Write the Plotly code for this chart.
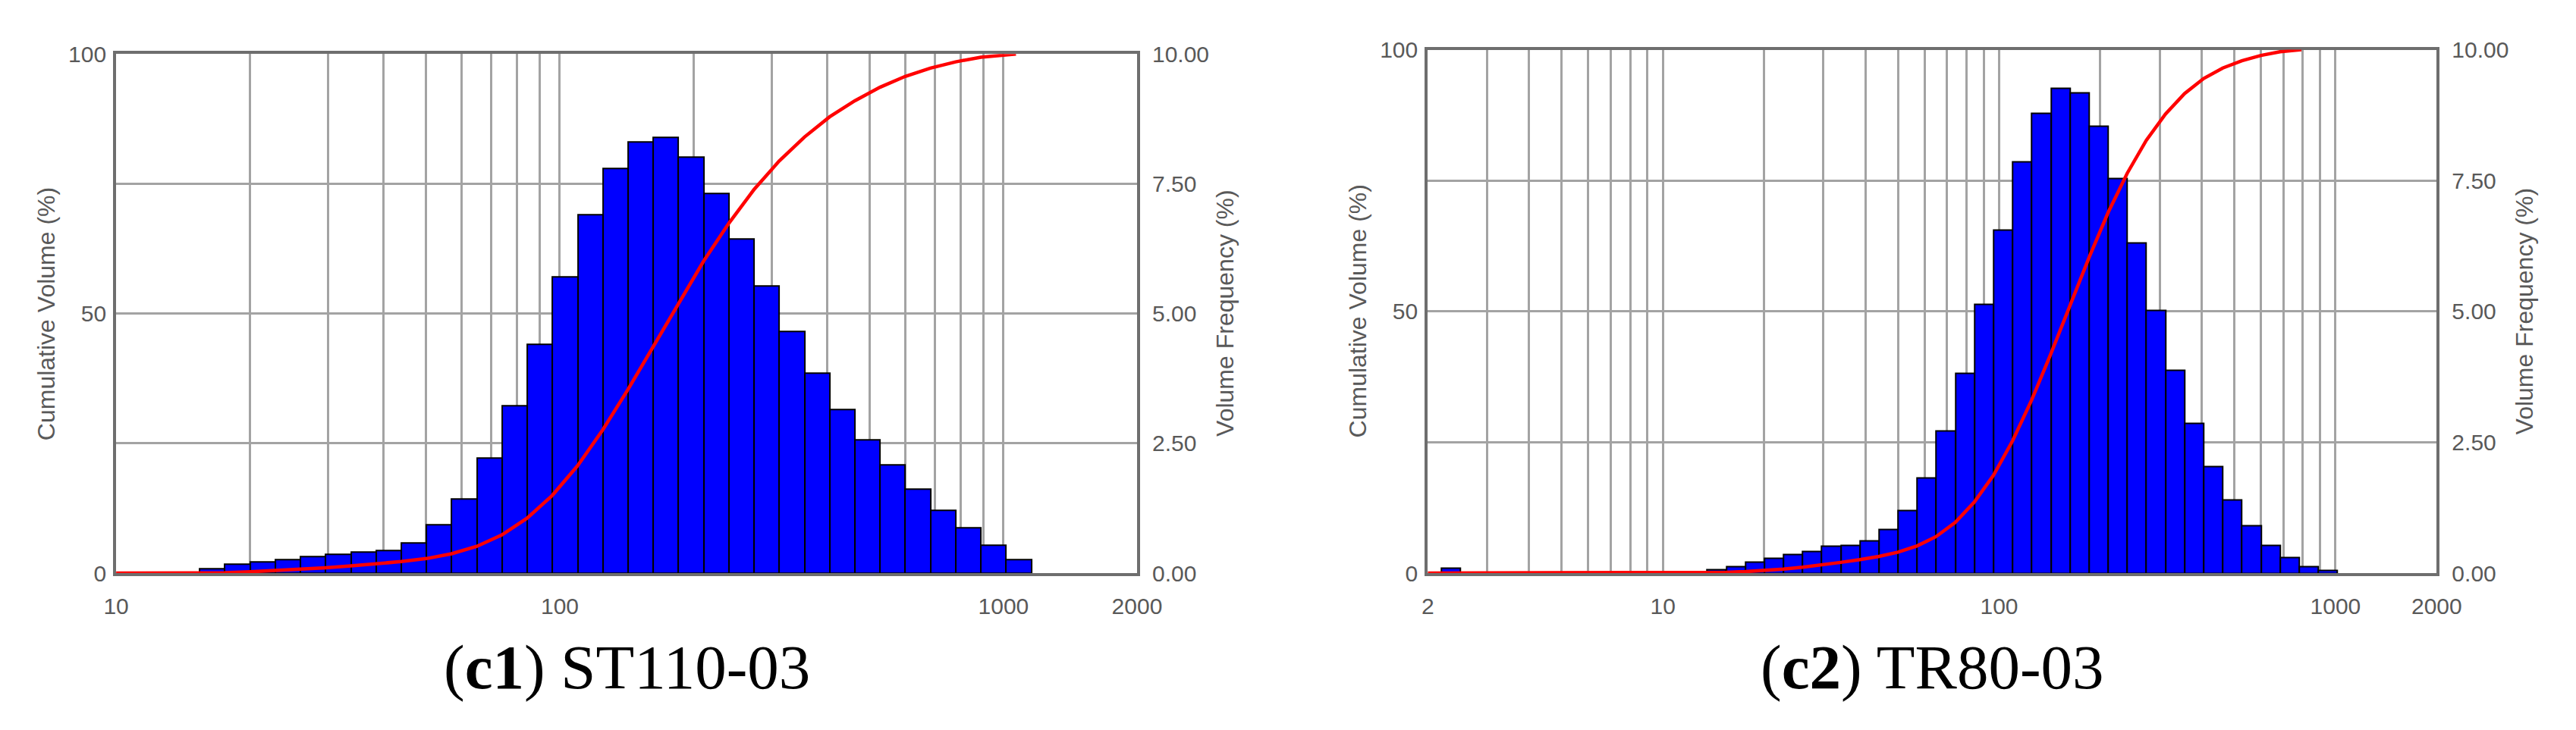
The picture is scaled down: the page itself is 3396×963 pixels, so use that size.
import math
import plotly.graph_objects as go

# ---------------- data ----------------
# particle size bin centres (um), log-spaced instrument bins
bin_centers = [14.45, 16.48, 18.78, 21.40, 24.39, 27.80, 31.68, 36.11, 41.16, 46.91,
               53.46, 60.93, 69.44, 79.14, 90.20, 102.8, 117.2, 133.6, 152.2, 173.5,
               197.7, 225.4, 256.8, 292.7, 333.6, 380.2, 433.4, 493.9, 562.9, 641.6,
               731.1, 833.4, 949.9, 1082.6]
bin_log_width = 0.0568  # width of one bin in decades

# (c1) ST110-03 volume frequency (%)
c1_size = bin_centers[1:]
c1_freq = [0.08, 0.17, 0.21, 0.26, 0.31, 0.36, 0.40, 0.43, 0.58, 0.93,
           1.43, 2.21, 3.23, 4.41, 5.70, 6.90, 7.79, 8.30, 8.39, 8.02,
           7.32, 6.43, 5.53, 4.65, 3.85, 3.15, 2.57, 2.08, 1.61, 1.21,
           0.87, 0.53, 0.26]
# (c1) cumulative volume (%)
c1_cum_size = [10, 15.43, 17.59, 20.04, 22.84, 26.03, 29.67, 33.81, 38.53, 43.92,
               50.05, 57.04, 65.01, 74.09, 84.45, 96.24, 109.7, 125.0, 142.5, 162.4,
               185.1, 210.9, 240.4, 274.0, 312.3, 355.9, 405.6, 462.3, 526.9, 600.5,
               684.4, 780.0, 889.0, 1013, 1067]
c1_cum = [0, 0, 0.08, 0.25, 0.46, 0.72, 1.03, 1.39, 1.79, 2.22,
          2.80, 3.73, 5.16, 7.37, 10.6, 15.0, 20.7, 27.6, 35.4, 43.7,
          52.1, 60.1, 67.4, 73.9, 79.4, 84.0, 87.9, 91.0, 93.6, 95.7,
          97.3, 98.5, 99.4, 99.9, 100]

# (c2) TR80-03 volume frequency (%)
c2_size = [2.34] + bin_centers[:33]
c2_freq = [0.10,
           0.06, 0.12, 0.21, 0.28, 0.36, 0.41, 0.51, 0.53, 0.62, 0.83,
           1.19, 1.82, 2.71, 3.82, 5.14, 6.55, 7.85, 8.79, 9.26, 9.17,
           8.54, 7.54, 6.30, 5.02, 3.87, 2.86, 2.03, 1.40, 0.90, 0.53,
           0.30, 0.12, 0.05]
# (c2) cumulative volume (%)
c2_cum_size = [2, 2.17, 2.52, 13.54, 15.43, 17.59, 20.04, 22.84, 26.03, 29.67,
               33.81, 38.53, 43.92, 50.05, 57.04, 65.01, 74.09, 84.45, 96.24, 109.7,
               125.0, 142.5, 162.4, 185.1, 210.9, 240.4, 274.0, 312.3, 355.9, 405.6,
               462.3, 526.9, 600.5, 684.4, 792]
c2_cum = [0, 0, 0.1, 0.1, 0.16, 0.28, 0.49, 0.77, 1.13, 1.54,
          2.05, 2.58, 3.2, 4.0, 5.2, 7.0, 9.7, 13.6, 18.7, 25.3,
          33.1, 41.9, 51.2, 60.3, 68.9, 76.4, 82.7, 87.7, 91.6, 94.5,
          96.5, 97.9, 98.9, 99.6, 100]

# axis ticks / grid
c1_xgrid = [10, 20, 30, 40, 50, 60, 70, 80, 90, 100, 200, 300, 400, 500, 600, 700, 800, 900, 1000, 2000]
c1_xlabels = ["10", "", "", "", "", "", "", "", "", "100", "", "", "", "", "", "", "", "", "1000", "2000"]
c2_xgrid = [2, 3, 4, 5, 6, 7, 8, 9, 10, 20, 30, 40, 50, 60, 70, 80, 90, 100,
            200, 300, 400, 500, 600, 700, 800, 900, 1000, 2000]
c2_xlabels = ["2", "", "", "", "", "", "", "", "10", "", "", "", "", "", "", "", "", "100",
              "", "", "", "", "", "", "", "", "1000", "2000"]
freq_ticks = [0, 2.5, 5, 7.5, 10]
freq_labels = ["0.00", "2.50", "5.00", "7.50", "10.00"]
cum_ticks = [0, 50, 100]
cum_labels = ["0", "50", "100"]
captions = [("c1", "ST110-03"), ("c2", "TR80-03")]

# ---------------- styling ----------------
W, H = 3396, 963
GRID = "#a3a3a3"
FRAME = "#6e6e6e"
LABEL = "#595959"
TICKFONT = dict(family="Liberation Sans, Arial", size=30, color=LABEL)

panels = [
    dict(x0=130, x1=1496, y0=49, y1=758, xr=[10, 2000]),
    dict(x0=1885, x1=3235, y0=43, y1=758, xr=[2, 2000]),
]


def bar_geometry(centers):
    """Bars span one log-bin around each centre: offset and width in data units."""
    half = 10 ** (bin_log_width / 2)
    lefts = [c / half for c in centers]
    rights = [c * half for c in centers]
    offsets = [l - c for l, c in zip(lefts, centers)]
    widths = [r - l for l, r in zip(lefts, rights)]
    return offsets, widths


fig = go.Figure()

for size, freq, cs, cv, xa, yb, yc in [
    (c1_size, c1_freq, c1_cum_size, c1_cum, "x", "y", "y2"),
    (c2_size, c2_freq, c2_cum_size, c2_cum, "x2", "y3", "y4"),
]:
    off, wid = bar_geometry(size)
    fig.add_trace(go.Bar(x=size, y=freq, offset=off, width=wid, xaxis=xa, yaxis=yb,
                         marker=dict(color="#0000ff", line=dict(color="#000000", width=2)),
                         showlegend=False))
    fig.add_trace(go.Scatter(x=cs, y=cv, xaxis=xa, yaxis=yc, mode="lines",
                             line=dict(color="#ff0000", width=4.5), showlegend=False))


def xdom(p):
    return [p["x0"] / W, p["x1"] / W]


def ydom(p):
    return [1 - p["y1"] / H, 1 - p["y0"] / H]


common_x = dict(type="log", showgrid=True, gridcolor=GRID, gridwidth=2.5,
                showline=True, linecolor=FRAME, linewidth=4, mirror=True,
                ticks="", tickfont=TICKFONT, ticklabelstandoff=14,
                zeroline=False, layer="below traces", fixedrange=True)
common_freq = dict(range=[0, 10], side="right", tickvals=freq_ticks, ticktext=freq_labels,
                   showgrid=True, gridcolor=GRID, gridwidth=2.5,
                   showline=True, linecolor=FRAME, linewidth=4, mirror=True,
                   ticks="", tickfont=TICKFONT, ticklabelstandoff=10,
                   zeroline=False, layer="below traces")
common_cum = dict(range=[0, 100], side="left", tickvals=cum_ticks, ticktext=cum_labels,
                  showgrid=False, showline=False, ticks="", tickfont=TICKFONT,
                  ticklabelstandoff=12, zeroline=False)

p1, p2 = panels
fig.update_layout(
    width=W, height=H, margin=dict(l=0, r=0, t=0, b=0),
    paper_bgcolor="white", plot_bgcolor="white", bargap=0,
    xaxis=dict(domain=xdom(p1), anchor="y",
               range=[math.log10(p1["xr"][0]), math.log10(p1["xr"][1])],
               tickvals=c1_xgrid, ticktext=c1_xlabels, **common_x),
    yaxis=dict(domain=ydom(p1), anchor="x", **common_freq),
    yaxis2=dict(overlaying="y", anchor="x", **common_cum),
    xaxis2=dict(domain=xdom(p2), anchor="y3",
                range=[math.log10(p2["xr"][0]), math.log10(p2["xr"][1])],
                tickvals=c2_xgrid, ticktext=c2_xlabels, **common_x),
    yaxis3=dict(domain=ydom(p2), anchor="x2", **common_freq),
    yaxis4=dict(overlaying="y3", anchor="x2", **common_cum),
)

ann = []
for p, (tag, name) in zip(panels, captions):
    ymid = 1 - ((p["y0"] + p["y1"]) / 2) / H
    ann.append(dict(x=(p["x0"] - 94) / W, y=ymid, xref="paper", yref="paper",
                    text="Cumulative Volume (%)", textangle=-90, showarrow=False,
                    xanchor="center", yanchor="middle",
                    font=dict(family="Liberation Sans, Arial", size=32, color=LABEL)))
    ann.append(dict(x=(p["x1"] + 117) / W, y=ymid, xref="paper", yref="paper",
                    text="Volume Frequency (%)", textangle=-90, showarrow=False,
                    xanchor="center", yanchor="middle",
                    font=dict(family="Liberation Sans, Arial", size=32, color=LABEL)))
    ann.append(dict(x=((p["x0"] + p["x1"]) / 2) / W, y=1 - 886 / H, xref="paper", yref="paper",
                    text=f"(<b>{tag}</b>) {name}", showarrow=False,
                    xanchor="center", yanchor="middle",
                    font=dict(family="Liberation Serif, Times New Roman", size=83, color="black")))
fig.update_layout(annotations=ann)

fig.write_html("out.html")
